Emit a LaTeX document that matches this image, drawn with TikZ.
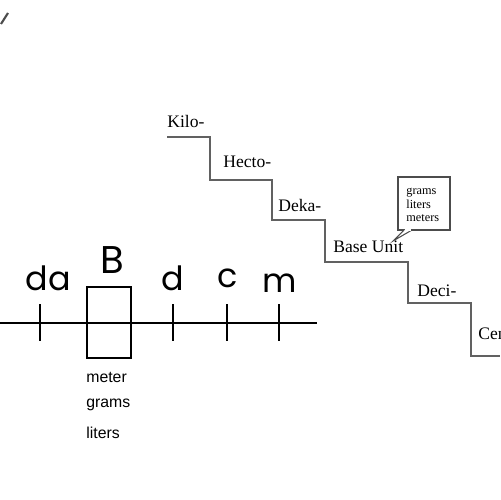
\documentclass[tikz,border=0pt]{standalone}
\usepackage{fontspec}
\setmainfont{Liberation Serif}
\newfontfamily\handfont{Poppins}
\newfontfamily\arialfont{Liberation Sans}
\usetikzlibrary{positioning}

\begin{document}
\begin{tikzpicture}[x=0.02cm,y=-0.02cm,
  stair/.style={draw=black!62,line width=0.8pt},
  lvl/.style={anchor=west,inner sep=0pt,font=\fontsize{10}{12}\selectfont},
  big/.style={anchor=base,inner sep=0pt,font=\handfont\fontsize{19}{22}\selectfont},
  tickmark/.style={draw,line width=0.7pt},
  unit/.style={anchor=west,inner sep=0pt,font=\arialfont\fontsize{9}{11}\selectfont}]
\useasboundingbox (0,0) rectangle (500,500);
\clip (0,0) rectangle (500,500);
% corner mark
\draw[black!70,line width=1.2pt] (8,13) -- (1,24);
% STAIRCASE
\draw[stair] (167,137) -- (210,137) -- (210,180) -- (272,180) -- (272,220)
  -- (325,220) -- (325,262) -- (408,262) -- (408,303) -- (471,303)
  -- (471,356) -- (500,356);
\node[lvl] (kilo) at (167,121) {Kilo-};
\node[lvl] (hecto) at (223,162) {Hecto-};
\node[lvl] (deka) at (278,205) {Deka-};
\node[lvl] (base) at (333,247) {Base Unit};
\node[lvl] (deci) at (417,291) {Deci-};
\node[lvl] (centi) at (478,334) {Centi-};
% callout
\draw[black!70,line width=0.6pt,fill=white] (398,177) rectangle (450,230);
\draw[black!70,line width=0.6pt,fill=white] (404,230) -- (393,241) -- (412,230);
\draw[white,line width=0.8pt] (404.6,230) -- (411.4,230);
\node[anchor=west,align=left,inner sep=0pt,font=\fontsize{7}{7.6}\selectfont] (callout) at (406,205) {grams\\liters\\meters};
% NUMBER LINE
\draw[tickmark] (0,323) -- (317,323);
\foreach \x/\t in {40/da,173/d,227/c,279/m}
  \draw[tickmark] (\x,304) -- (\x,341);
\draw[tickmark] (87,287) rectangle (131,358);
\node[big] (da) at (48,290) {da};
\node[big,font=\handfont\fontsize{22}{24}\selectfont] (bb) at (112,273) {B};
\node[big] (dd) at (173,290) {d};
\node[big] (cc) at (228,287) {c};
\node[big] (mm) at (280,292) {m};
\node[unit] (meter) at (86,377) {meter};
\node[unit] (grams) at (86,405) {grams};
\node[unit] (liters) at (86,433) {liters};
\end{tikzpicture}
\end{document}
